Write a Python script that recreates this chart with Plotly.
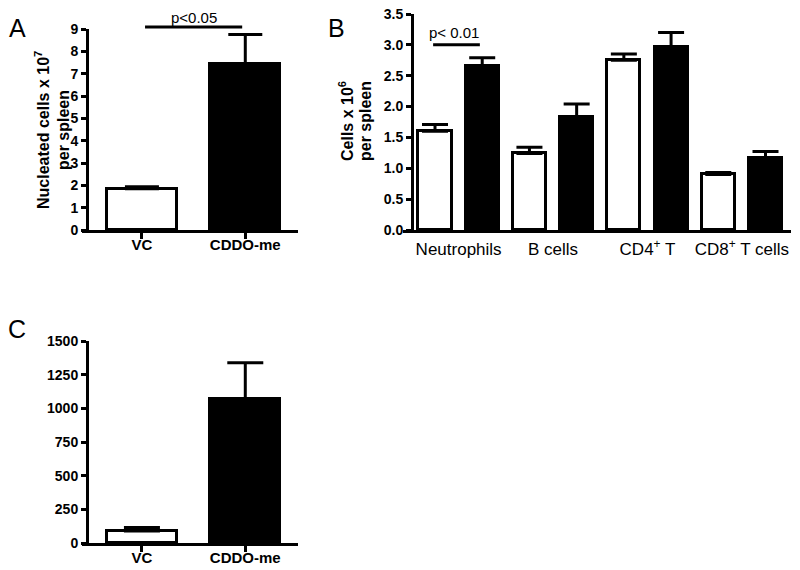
import plotly.graph_objects as go

# ---------------- data ----------------
groups = ["VC", "CDDO-me"]
a_means = [1.85, 7.42]
a_sem = [0.09, 1.33]

cell_types = ["Neutrophils", "B cells", "CD4<sup>+</sup> T", "CD8<sup>+</sup> T cells"]
b_vc_means = [1.60, 1.24, 2.75, 0.90]
b_vc_sem = [0.11, 0.10, 0.10, 0.03]
b_cddo_means = [2.65, 1.83, 2.97, 1.17]
b_cddo_sem = [0.14, 0.21, 0.23, 0.10]

c_means = [89, 1072]
c_sem = [27, 267]

W, H = 800, 570
OFF = 8  # page body margin offset seen in the screenshot
FONT = "Arial, Liberation Sans, sans-serif"


def px_x(x):
    return (x - OFF) / W


def px_y(y):
    return 1 - (y - OFF) / H


fig = go.Figure()

bar_line = dict(color="black", width=3)
fills = ["white", "black"]

# Panel A
fig.add_trace(go.Bar(
    x=[0, 1], y=a_means, width=0.68,
    marker=dict(color=fills, line=bar_line),
    error_y=dict(type="data", symmetric=False, array=a_sem, arrayminus=[0, 0],
                 color="black", thickness=3, width=17),
    xaxis="x", yaxis="y", showlegend=False))

# Panel B
b_x_vc = [2 * i for i in range(len(cell_types))]
b_x_cd = [2 * i + 1 for i in range(len(cell_types))]
fig.add_trace(go.Bar(
    x=b_x_vc, y=b_vc_means, width=0.7,
    marker=dict(color="white", line=bar_line),
    error_y=dict(type="data", symmetric=False, array=b_vc_sem,
                 arrayminus=[0] * len(cell_types),
                 color="black", thickness=3, width=13),
    xaxis="x2", yaxis="y2", showlegend=False))
fig.add_trace(go.Bar(
    x=b_x_cd, y=b_cddo_means, width=0.7,
    marker=dict(color="black", line=bar_line),
    error_y=dict(type="data", symmetric=False, array=b_cddo_sem,
                 arrayminus=[0] * len(cell_types),
                 color="black", thickness=3, width=13),
    xaxis="x2", yaxis="y2", showlegend=False))

# Panel C
fig.add_trace(go.Bar(
    x=[0, 1], y=c_means, width=0.68,
    marker=dict(color=fills, line=bar_line),
    error_y=dict(type="data", symmetric=False, array=c_sem, arrayminus=[0, 0],
                 color="black", thickness=3, width=18),
    xaxis="x3", yaxis="y3", showlegend=False))

tickfont_b = dict(family=FONT, size=14, color="black", weight="bold")
common_axis = dict(showgrid=False, zeroline=False, showline=True, linecolor="black",
                   linewidth=3, ticks="outside", tickwidth=3, ticklen=5,
                   tickcolor="black", fixedrange=True, automargin=False,
                   ticklabeloverflow="allow")
xlab_font = dict(family=FONT, size=15, color="black", weight="bold")

fig.update_layout(
    width=W, height=H,
    margin=dict(l=0, r=0, t=0, b=0, pad=0),
    paper_bgcolor="white", plot_bgcolor="white",
    bargap=0,
    barmode="overlay",
    font=dict(family=FONT, color="black"),
    xaxis=dict(common_axis, domain=[px_x(82), px_x(298)], range=[-0.58, 1.51],
               anchor="y", tickvals=[0, 1], ticktext=groups, ticklen=6,
               ticklabelstandoff=-7, tickfont=xlab_font),
    yaxis=dict(common_axis, domain=[px_y(230), px_y(29)], range=[0, 9],
               anchor="free", position=px_x(87), tickvals=list(range(0, 10)),
               tickfont=tickfont_b),
    xaxis2=dict(common_axis, domain=[px_x(403), px_x(791)], range=[-0.678, 7.54],
                anchor="y2", ticks="", tickvals=[2 * i + 0.5 for i in range(len(cell_types))],
                ticktext=cell_types, ticklabelstandoff=2,
                tickfont=dict(family=FONT, size=17, color="black")),
    yaxis2=dict(common_axis, domain=[px_y(230), px_y(14)], range=[0, 3.5],
                anchor="free", position=px_x(412),
                tickvals=[0, 0.5, 1, 1.5, 2, 2.5, 3, 3.5], tickformat=".1f",
                tickfont=tickfont_b),
    xaxis3=dict(common_axis, domain=[px_x(82), px_x(298)], range=[-0.58, 1.51],
                anchor="y3", tickvals=[0, 1], ticktext=groups, ticklen=6,
                ticklabelstandoff=-7, tickfont=xlab_font),
    yaxis3=dict(common_axis, domain=[px_y(543), px_y(341)], range=[0, 1500],
                anchor="free", position=px_x(87),
                tickvals=[0, 250, 500, 750, 1000, 1250, 1500],
                tickfont=tickfont_b),
)

ann = []
# panel letters
for letter, x, y in [("A", 17, 28), ("B", 336, 28), ("C", 17, 329)]:
    ann.append(dict(text=letter, x=px_x(x), y=px_y(y), xref="paper", yref="paper",
                    showarrow=False, xanchor="center", yanchor="middle",
                    font=dict(family=FONT, size=25, color="black")))
# axis titles (one annotation per line)
title_font = dict(family=FONT, size=16, color="black", weight="bold")
for txt, x, y in [("Nucleated cells x 10<sup>7</sup>", 42, 130),
                  ("per spleen", 63, 130),
                  ("Cells x 10<sup>6</sup>", 346, 121),
                  ("per spleen", 366, 121)]:
    ann.append(dict(text=txt, x=px_x(x), y=px_y(y), xref="paper", yref="paper",
                    textangle=-90, showarrow=False, xanchor="center", yanchor="middle",
                    font=title_font))
# significance labels
ann.append(dict(text="p<0.05", x=0.5, y=px_y(17), xref="x", yref="paper",
                showarrow=False, xanchor="center", yanchor="middle",
                font=dict(family=FONT, size=15, color="black")))
ann.append(dict(text="p< 0.01", x=0.4, y=3.2, xref="x2", yref="y2",
                showarrow=False, xanchor="center", yanchor="middle",
                font=dict(family=FONT, size=15, color="black")))
fig.update_layout(annotations=ann)

fig.update_layout(shapes=[
    dict(type="line", xref="x", yref="paper", x0=0.03, x1=0.97,
         y0=px_y(27), y1=px_y(27), line=dict(color="black", width=3)),
    dict(type="line", xref="x2", yref="y2", x0=-0.04, x1=0.95,
         y0=3.0, y1=3.0, line=dict(color="black", width=3)),
])

fig.write_html("out.html")
